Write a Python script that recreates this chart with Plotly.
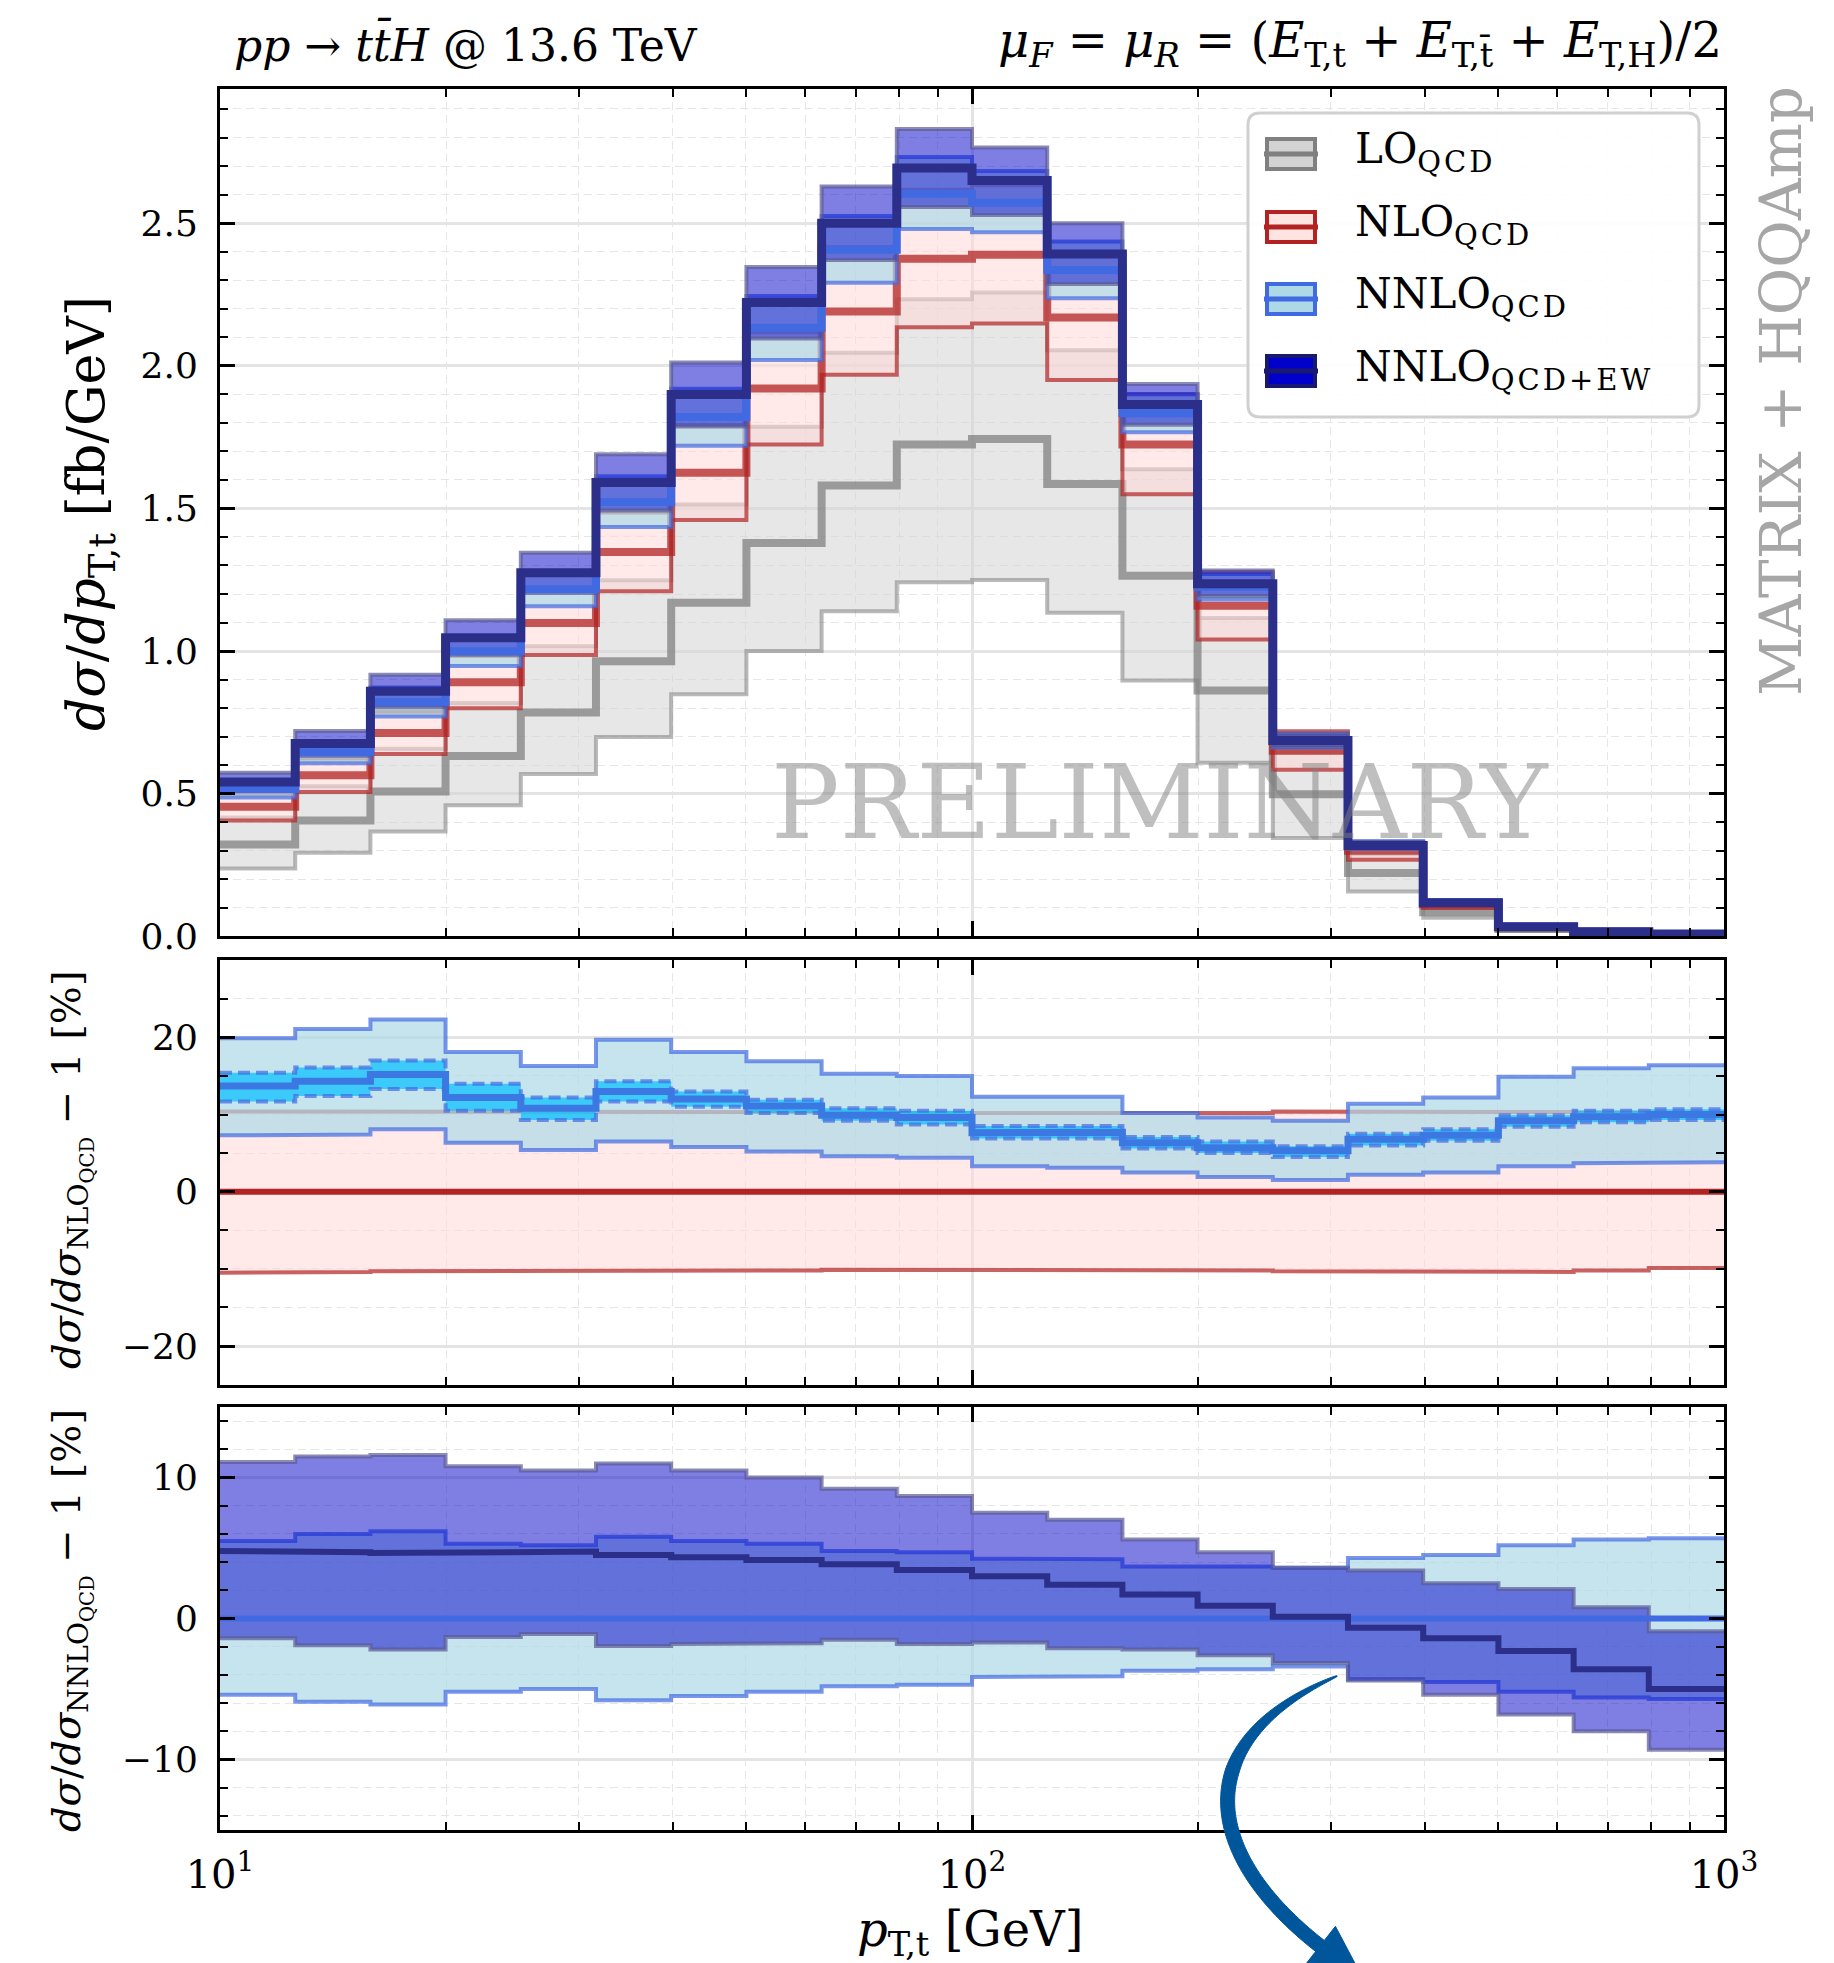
import numpy as np
import plotly.graph_objects as go

# ---------------- data ----------------
edges = [10.0, 12.59, 15.85, 19.95, 25.12, 31.62, 39.81, 50.12, 63.10, 79.43, 100.0,
         125.9, 158.5, 199.5, 251.2, 316.2, 398.1, 501.2, 631.0, 794.3, 1000.0]

# LO (absolute, fb/GeV)
lo_c = [0.322, 0.406, 0.508, 0.632, 0.785, 0.964, 1.169, 1.379, 1.580, 1.724,
        1.743, 1.586, 1.264, 0.862, 0.498, 0.222, 0.085, 0.026, 0.012, 0.0055]
lo_dn = [0.238, 0.293, 0.368, 0.460, 0.569, 0.699, 0.849, 1.000, 1.140, 1.241,
         1.249, 1.134, 0.897, 0.609, 0.345, 0.157, 0.065, 0.019, 0.0088, 0.0040]
lo_up = [0.417, 0.526, 0.658, 0.818, 1.017, 1.248, 1.514, 1.786, 2.046, 2.233,
         2.257, 2.054, 1.637, 1.116, 0.645, 0.288, 0.110, 0.034, 0.0155, 0.0071]

# NLO (absolute central, band in % of NLO central)
nlo_c = [0.454, 0.565, 0.713, 0.891, 1.098, 1.347, 1.625, 1.920, 2.190, 2.375,
         2.389, 2.169, 1.724, 1.159, 0.651, 0.300, 0.1115, 0.032, 0.0156, 0.0077]
nlo_up_pct = [10.4, 10.4, 10.4, 10.3, 10.3, 10.3, 10.3, 10.3, 10.3, 10.2,
              10.2, 10.2, 10.2, 10.2, 10.4, 10.3, 10.3, 10.3, 10.3, 10.2]
nlo_dn_pct = [-10.5, -10.4, -10.3, -10.3, -10.2, -10.2, -10.2, -10.2, -10.1, -10.1,
              -10.1, -10.1, -10.1, -10.2, -10.3, -10.4, -10.4, -10.4, -10.2, -9.9]

# NNLO QCD relative to NLO QCD [%]
nnlo_pct = [13.7, 14.3, 15.2, 12.2, 10.8, 13.0, 12.0, 11.1, 9.9, 9.6,
            7.65, 7.7, 6.35, 5.7, 5.3, 6.8, 7.3, 9.2, 9.7, 10.0]
nnlo_up_pct = [19.9, 21.1, 22.3, 18.1, 16.3, 19.7, 18.1, 16.9, 15.3, 15.0,
               12.3, 12.3, 10.2, 9.6, 9.2, 11.4, 12.2, 14.9, 16.0, 16.4]
nnlo_dn_pct = [7.3, 7.4, 8.1, 6.35, 5.4, 6.5, 5.8, 5.2, 4.6, 4.4,
               3.3, 3.1, 2.5, 1.9, 1.5, 2.2, 2.5, 3.3, 3.7, 3.8]
nnlo_stat_up_pct = [15.4, 16.1, 17.0, 14.0, 12.2, 14.3, 13.0, 11.9, 10.8, 10.5,
                    8.5, 8.5, 7.1, 6.5, 5.9, 7.5, 8.1, 9.9, 10.5, 10.7]
nnlo_stat_dn_pct = [11.7, 12.4, 13.3, 10.5, 9.3, 11.7, 11.0, 10.2, 9.2, 8.7,
                    6.9, 6.9, 5.6, 5.0, 4.5, 6.0, 6.6, 8.4, 9.0, 9.3]

# NNLO QCD band relative to NNLO QCD central [%]
nnlo_rel_up = [5.5, 6.0, 6.2, 5.3, 5.2, 5.8, 5.5, 5.3, 4.8, 4.7,
               4.25, 4.2, 3.7, 3.7, 3.6, 4.3, 4.5, 5.2, 5.6, 5.7]
nnlo_rel_dn = [-5.4, -5.9, -6.1, -5.2, -5.0, -5.8, -5.5, -5.2, -4.8, -4.7,
               -4.15, -4.1, -3.7, -3.6, -3.4, -4.3, -4.5, -5.2, -5.6, -5.7]

# NNLO QCD+EW relative to NNLO QCD [%]
ew_pct = [4.8, 4.7, 4.65, 4.7, 4.75, 4.5, 4.35, 4.15, 3.85, 3.45,
          3.0, 2.4, 1.7, 0.9, 0.13, -0.65, -1.4, -2.3, -3.6, -5.0]
ew_up_pct = [11.1, 11.5, 11.6, 10.8, 10.5, 11.0, 10.5, 10.0, 9.2, 8.7,
             7.5, 7.0, 5.6, 4.7, 3.6, 3.4, 2.5, 2.1, 0.8, -0.9]
ew_dn_pct = [-1.4, -1.9, -2.2, -1.3, -1.1, -1.95, -1.8, -1.75, -1.5, -1.8,
             -1.7, -2.1, -2.2, -2.6, -3.15, -4.4, -5.4, -6.8, -8.0, -9.3]

xtick_vals = [10, 100, 1000]
xtick_text = ['10<sup>1</sup>', '10<sup>2</sup>', '10<sup>3</sup>']
xminor_vals = [20, 30, 40, 50, 60, 70, 80, 90, 200, 300, 400, 500, 600, 700, 800, 900]

# -------------- derived quantities --------------
def scale(base, pct):
    return [b * (1 + p / 100.0) for b, p in zip(base, pct)]

nlo_up = scale(nlo_c, nlo_up_pct)
nlo_dn = scale(nlo_c, nlo_dn_pct)
nnlo_c = scale(nlo_c, nnlo_pct)
nnlo_up = scale(nlo_c, nnlo_up_pct)
nnlo_dn = scale(nlo_c, nnlo_dn_pct)
ew_c = scale(nnlo_c, ew_pct)
ew_up = scale(nnlo_c, ew_up_pct)
ew_dn = scale(nnlo_c, ew_dn_pct)
nlo_ratio_c = [100.0 * (c / c - 1) for c in nlo_c]
nnlo_ratio_c = [100.0 * (c / c - 1) for c in nnlo_c]

# -------------- helpers --------------
def steps(vals):
    xs, ys = [], []
    for i, v in enumerate(vals):
        xs += [edges[i], edges[i + 1]]
        ys += [v, v]
    return xs, ys

fig = go.Figure()

def band(lo, hi, color, ax):
    x1, y1 = steps(hi)
    x2, y2 = steps(lo)
    fig.add_trace(go.Scatter(x=x1 + x2[::-1], y=y1 + y2[::-1], fill='toself', fillcolor=color,
                             mode='lines', line=dict(width=0), hoverinfo='skip',
                             showlegend=False, xaxis='x' + ax, yaxis='y' + ax))

def line(vals, color, width, ax, dash=None):
    x, y = steps(vals)
    fig.add_trace(go.Scatter(x=x, y=y, mode='lines', line=dict(color=color, width=width, dash=dash),
                             hoverinfo='skip', showlegend=False, xaxis='x' + ax, yaxis='y' + ax))

LO_FILL = 'rgba(211,211,211,0.55)'
LO_EDGE = 'rgba(128,128,128,0.55)'
LO_LINE = 'rgba(128,128,128,0.75)'
NLO_FILL = 'rgba(255,215,215,0.55)'
NLO_EDGE = 'rgba(178,34,34,0.7)'
NNLO_FILL = 'rgba(173,216,230,0.7)'
NNLO_EDGE = 'rgba(65,105,225,0.7)'
NNLO_LINE = 'rgb(65,105,225)'
STAT_FILL = 'rgba(0,191,255,0.7)'
EW_FILL = 'rgba(0,0,200,0.5)'
EW_EDGE = 'rgba(90,90,150,0.7)'
EW_LINE = 'rgb(43,47,138)'

# top panel  (axis suffix '' )
band(lo_dn, lo_up, LO_FILL, '')
line(lo_up, LO_EDGE, 4, '')
line(lo_dn, LO_EDGE, 4, '')
line(lo_c, LO_LINE, 8, '')
band(nlo_dn, nlo_up, NLO_FILL, '')
line(nlo_up, NLO_EDGE, 4, '')
line(nlo_dn, NLO_EDGE, 4, '')
line(nlo_c, 'rgba(178,34,34,0.75)', 8, '')
band(nnlo_dn, nnlo_up, NNLO_FILL, '')
line(nnlo_up, NNLO_EDGE, 4, '')
line(nnlo_dn, NNLO_EDGE, 4, '')
band(ew_dn, ew_up, EW_FILL, '')
line(ew_up, EW_EDGE, 4, '')
line(ew_dn, EW_EDGE, 4, '')
line(nnlo_c, NNLO_LINE, 8, '')
line(ew_c, EW_LINE, 9, '')

# middle panel
band(nlo_dn_pct, nlo_up_pct, NLO_FILL, '2')
line(nlo_up_pct, NLO_EDGE, 4, '2')
line(nlo_dn_pct, NLO_EDGE, 4, '2')
line(nlo_ratio_c, 'rgb(178,34,34)', 6, '2')
band(nnlo_dn_pct, nnlo_up_pct, NNLO_FILL, '2')
line(nnlo_up_pct, NNLO_EDGE, 4, '2')
line(nnlo_dn_pct, NNLO_EDGE, 4, '2')
band(nnlo_stat_dn_pct, nnlo_stat_up_pct, STAT_FILL, '2')
line(nnlo_stat_up_pct, NNLO_EDGE, 4, '2', dash='12px,6px')
line(nnlo_stat_dn_pct, NNLO_EDGE, 4, '2', dash='12px,6px')
line(nnlo_pct, 'rgb(60,120,225)', 7, '2')

# bottom panel
band(nnlo_rel_dn, nnlo_rel_up, NNLO_FILL, '3')
line(nnlo_rel_up, NNLO_EDGE, 4, '3')
line(nnlo_rel_dn, NNLO_EDGE, 4, '3')
band(ew_dn_pct, ew_up_pct, EW_FILL, '3')
line(ew_up_pct, EW_EDGE, 4, '3')
line(ew_dn_pct, EW_EDGE, 4, '3')
line(nnlo_ratio_c, NNLO_LINE, 6, '3')
line(ew_pct, EW_LINE, 6, '3')

# -------------- layout --------------
W, H = 1834, 1963
ML, MR, MT, MB = 220, 110, 89, 133
PW = W - ML - MR
PH = H - MT - MB

def PX(x):
    return (x - ML) / PW

def PY(y):
    return (H - MB - y) / PH

def clamp(v):
    return min(1.0, max(0.0, v))

FONT = 'DejaVu Serif'
grid_major = '#e4e4e4'
grid_minor = '#e6e6e6'

def xaxis(domain_anchor, labels):
    return dict(type='log', range=[1, 3], anchor=domain_anchor, domain=[0, 1],
                showline=True, linecolor='black', linewidth=3, mirror='allticks',
                ticks='inside', ticklen=15, tickwidth=2.5, tickcolor='black',
                tickmode='array', tickvals=xtick_vals, ticktext=xtick_text,
                showticklabels=labels, ticklabelstandoff=7,
                tickfont=dict(family=FONT, size=40, color='black'),
                showgrid=True, gridcolor=grid_major, gridwidth=2.5, zeroline=False,
                minor=dict(tickmode='array', tickvals=xminor_vals, ticks='inside', ticklen=8,
                           tickwidth=2, tickcolor='black', showgrid=True, gridcolor=grid_minor,
                           gridwidth=1.3, griddash='8px,5px'))

def yaxis(domain, rng, dtick, mdtick, fmt, anchor):
    return dict(domain=domain, range=rng, anchor=anchor, tick0=0, dtick=dtick, tickformat=fmt,
                showline=True, linecolor='black', linewidth=3, mirror='allticks',
                ticks='inside', ticklen=15, tickwidth=2.5, tickcolor='black',
                ticklabelstandoff=12, tickfont=dict(family=FONT, size=36, color='black'),
                showgrid=True, gridcolor=grid_major, gridwidth=2.5, zeroline=False,
                minor=dict(dtick=mdtick, tick0=0, ticks='inside', ticklen=8, tickwidth=2,
                           tickcolor='black', showgrid=True, gridcolor=grid_minor,
                           gridwidth=1.3, griddash='8px,5px'))

dom_top = [clamp(PY(936.4)), clamp(PY(88.9))]
dom_mid = [clamp(PY(1384.6)), clamp(PY(960.2))]
dom_bot = [clamp(PY(1830.2)), clamp(PY(1407.1))]

shapes = []
annotations = []

# legend box (rounded)
def rounded_path(x0, y0, x1, y1, r):
    pts = [('M', [(x0 + r, y0)]), ('L', [(x1 - r, y0)]), ('Q', [(x1, y0), (x1, y0 + r)]),
           ('L', [(x1, y1 - r)]), ('Q', [(x1, y1), (x1 - r, y1)]), ('L', [(x0 + r, y1)]),
           ('Q', [(x0, y1), (x0, y1 - r)]), ('L', [(x0, y0 + r)]), ('Q', [(x0, y0), (x0 + r, y0)])]
    s = ''
    for cmd, ps in pts:
        s += cmd + ' ' + ' '.join(f'{PX(px):.5f},{PY(py):.5f}' for px, py in ps) + ' '
    return s + 'Z'

shapes.append(dict(type='path', xref='paper', yref='paper', path=rounded_path(1248, 113, 1699, 417, 12),
                   fillcolor='rgba(255,255,255,0.92)', line=dict(color='#d0d0d0', width=3), layer='above'))

legend_rows = [154, 227, 299, 371]
legend_labels = ['LO', 'NLO', 'NNLO', 'NNLO']
legend_subs = ['QCD', 'QCD', 'QCD', 'QCD+EW']
legend_fill = ['#d3d3d3', '#ffe4e1', '#add8e6', '#0000cd']
legend_edge = ['#808080', '#b22222', '#4169e1', '#191970']
for row, lab, sub, fc, ec in zip(legend_rows, legend_labels, legend_subs, legend_fill, legend_edge):
    shapes.append(dict(type='rect', xref='paper', yref='paper', x0=PX(1267), x1=PX(1315),
                       y0=PY(row + 15), y1=PY(row - 15), fillcolor=fc, line=dict(color=ec, width=4),
                       layer='above'))
    shapes.append(dict(type='line', xref='paper', yref='paper', x0=PX(1264), x1=PX(1318),
                       y0=PY(row), y1=PY(row), line=dict(color=ec, width=5), layer='above'))
    annotations.append(dict(xref='paper', yref='paper', x=PX(1353), y=PY(row - 2), xanchor='left',
                            yanchor='middle', showarrow=False,
                            text=f"{lab}<sub><span style='font-size:29px;letter-spacing:3px'>{sub}</span></sub>",
                            font=dict(family=FONT, size=42, color='black')))

# arrow (decorative)
P = np.array([[1337, 1676], [1188, 1740], [1200, 1852], [1320, 1946]], float)
t = np.linspace(0, 1, 90)
Bz = (((1 - t) ** 3)[:, None] * P[0] + (3 * (1 - t) ** 2 * t)[:, None] * P[1]
      + (3 * (1 - t) * t ** 2)[:, None] * P[2] + (t ** 3)[:, None] * P[3])
Dz = ((3 * (1 - t) ** 2)[:, None] * (P[1] - P[0]) + (6 * (1 - t) * t)[:, None] * (P[2] - P[1])
      + (3 * t ** 2)[:, None] * (P[3] - P[2]))
Dz /= np.linalg.norm(Dz, axis=1)[:, None]
Nz = np.stack([-Dz[:, 1], Dz[:, 0]], 1)
wz = 1.0 + 13.0 * np.clip(t / 0.4, 0, 1) ** 0.7
left = Bz + Nz * (wz / 2)[:, None]
right = Bz - Nz * (wz / 2)[:, None]
poly = np.vstack([left, right[::-1]])
arrow_path = 'M ' + ' L '.join(f'{PX(x):.5f},{PY(y):.5f}' for x, y in poly) + ' Z'
ARROW = '#00569a'
shapes.append(dict(type='path', xref='paper', yref='paper', path=arrow_path, fillcolor=ARROW,
                   line=dict(color=ARROW, width=1), layer='above'))
d = Dz[-1]
b = np.array([-d[1], d[0]])
Mh = P[3]
C1 = Mh + 25 * b
C2 = Mh - 25 * b
Tp = Mh + 56 * d
head = 'M ' + ' L '.join(f'{PX(x):.5f},{PY(y):.5f}' for x, y in [C1, Tp, C2]) + ' Z'
shapes.append(dict(type='path', xref='paper', yref='paper', path=head, fillcolor=ARROW,
                   line=dict(color=ARROW, width=1), layer='above'))

# texts
annotations += [
    dict(xref='paper', yref='paper', x=PX(232), y=PY(44), xanchor='left', yanchor='middle', showarrow=False,
         text='<i>pp</i> → <i>t</i><i>t̄</i><i>H</i> @ 13.6 TeV', font=dict(family=FONT, size=44, color='black')),
    dict(xref='paper', yref='paper', x=PX(1724), y=PY(44), xanchor='right', yanchor='middle', showarrow=False,
         text='<i>μ</i><sub><i>F</i></sub> = <i>μ</i><sub><i>R</i></sub> = (<i>E</i><sub>T,t</sub> + '
              '<i>E</i><sub>T,t̄</sub> + <i>E</i><sub>T,H</sub>)/2',
         font=dict(family=FONT, size=48, color='black')),
    dict(xref='paper', yref='paper', x=PX(1781), y=PY(391), xanchor='center', yanchor='middle',
         showarrow=False, textangle=-90, text='MATRIX + HQQAmp',
         font=dict(family=FONT, size=58, color='#a6a6a6')),
    dict(xref='x', yref='y', x=float(np.log10(178)), y=0.47, xanchor='center', yanchor='middle', showarrow=False,
         text='PRELIMINARY', font=dict(family=FONT, size=102, color='rgba(128,128,128,0.5)')),
    dict(xref='paper', yref='paper', x=PX(90), y=PY(514), xanchor='center', yanchor='middle', showarrow=False,
         textangle=-90, text='<i>dσ</i>/<i>dp</i><sub>T,t</sub> [fb/GeV]',
         font=dict(family=FONT, size=52, color='black')),
    dict(xref='paper', yref='paper', x=PX(71), y=PY(1170), xanchor='center', yanchor='middle', showarrow=False,
         textangle=-90, text='<i>dσ</i>/<i>dσ</i><sub>NLO<sub>QCD</sub></sub> − 1 [%]',
         font=dict(family=FONT, size=40, color='black')),
    dict(xref='paper', yref='paper', x=PX(71), y=PY(1621), xanchor='center', yanchor='middle', showarrow=False,
         textangle=-90, text='<i>dσ</i>/<i>dσ</i><sub>NNLO<sub>QCD</sub></sub> − 1 [%]',
         font=dict(family=FONT, size=40, color='black')),
    dict(xref='paper', yref='paper', x=PX(970), y=PY(1932), xanchor='center', yanchor='middle', showarrow=False,
         text='<i>p</i><sub>T,t</sub> [GeV]', font=dict(family=FONT, size=48, color='black')),
]

fig.update_layout(
    width=W, height=H, margin=dict(l=ML, r=MR, t=MT, b=MB, pad=0),
    paper_bgcolor='white', plot_bgcolor='white', showlegend=False, hovermode=False,
    font=dict(family=FONT, size=34, color='black'),
    xaxis=xaxis('y', False),
    xaxis2=xaxis('y2', False),
    xaxis3=xaxis('y3', True),
    yaxis=yaxis(dom_top, [0, 2.97], 0.5, 0.1, '.1f', 'x'),
    yaxis2=yaxis(dom_mid, [-25, 30], 20, 5, 'd', 'x2'),
    yaxis3=yaxis(dom_bot, [-15, 15], 10, 2, 'd', 'x3'),
    shapes=shapes, annotations=annotations,
)

fig.write_html('out.html', config={'displayModeBar': False},
               post_script="document.body.style.margin='0px';")
